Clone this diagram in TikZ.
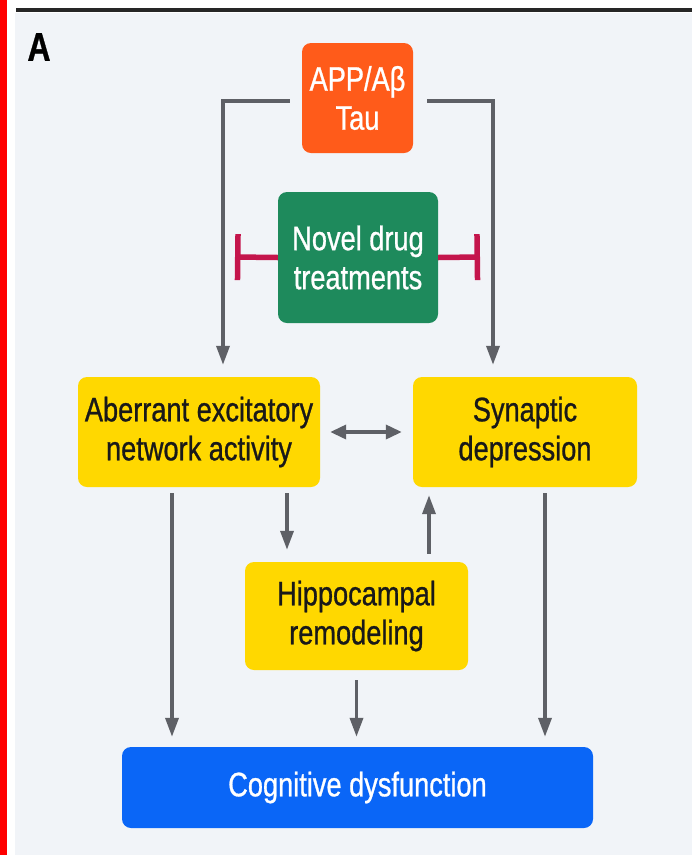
\documentclass[tikz,border=0pt]{standalone}
\usepackage{fontspec}
\setmainfont{Liberation Sans}[FakeStretch=0.8,FakeBold=0.8]
\usetikzlibrary{arrows.meta}
\definecolor{apporange}{HTML}{FF5B1A}
\definecolor{druggreen}{HTML}{1E8A5C}
\definecolor{boxyellow}{HTML}{FFD800}
\definecolor{cogblue}{HTML}{0A66F7}
\definecolor{inhibred}{HTML}{C4154C}
\definecolor{arrowgray}{HTML}{5E6066}
\definecolor{panelgray}{HTML}{F1F4F8}

\begin{document}
\begin{tikzpicture}[x=1pt,y=-1pt,
		box/.style={rounded corners=9pt,inner sep=0pt,align=center,font=\fontsize{34}{39}\selectfont},
		orange/.style={box,fill=apporange,text=white,minimum width=111pt,minimum height=110pt},
		green/.style={box,fill=druggreen,text=white,minimum width=160pt,minimum height=131pt},
		yellow/.style={box,fill=boxyellow,text=black!90,minimum height=110pt},
		blue/.style={box,fill=cogblue,text=white,minimum width=471pt,minimum height=81pt},
		flow/.style={draw=arrowgray,line width=3.5pt,-{Triangle[length=19pt,width=13pt]}},
		both/.style={flow,{Triangle[length=16pt,width=14pt]}-{Triangle[length=16pt,width=14pt]}},
		inhib/.style={draw=inhibred,line width=5.5pt,-{Bar[width=46pt]}}]
	\useasboundingbox (0,0) rectangle (692,855);
	\fill[white] (0,0) rectangle (692,855);
	\fill[red] (0,0) rectangle (7,855);
	\fill[panelgray] (15,13) rectangle (692,855);
	\draw[line width=4pt,black!85] (16,10) -- (692,10);

	\node[font=\bfseries\fontsize{40}{40}\selectfont]		(panel)	at (39,47)		{A};
	\node[orange]								(app)	at (357.5,98)	{APP/Aβ\\Tau};
	\node[green]								(drug)	at (358,257.5)	{Novel drug\\treatments};
	\node[yellow,minimum width=242pt]			(aen)	at (199,432)	{Aberrant excitatory\\network activity};
	\node[yellow,minimum width=224pt]			(syn)	at (525,432)	{Synaptic\\depression};
	\node[yellow,minimum width=223pt,minimum height=108pt]	(hip)	at (356.5,616)	{Hippocampal\\remodeling};
	\node[blue]									(cog)	at (357.5,787.5)	{Cognitive dysfunction};

	\coordinate (inhL) at (235,257);
	\coordinate (inhR) at (480,257);

	\draw[flow,shorten >=12pt] ([xshift=-12pt,yshift=-3pt]app.west) -| ([xshift=24pt]aen.north);
	\draw[flow,shorten >=12pt] ([xshift=14pt,yshift=-3pt]app.east) -| ([xshift=-32pt]syn.north);
	\draw[inhib] (drug.west) -- (inhL);
	\draw[inhib] (drug.east) -- (inhR);
	\draw[both,shorten <=10pt,shorten >=11pt] (aen.east) -- (syn.west);
	\draw[flow,shorten <=6pt,shorten >=10pt] ([xshift=-27pt]aen.south) -- ([xshift=-27pt]aen.south |- cog.north);
	\draw[flow,shorten <=6pt,shorten >=12pt] ([xshift=88pt]aen.south) -- ([xshift=88pt]aen.south |- hip.north);
	\draw[flow,shorten <=8pt,shorten >=8pt] ([xshift=72.5pt]hip.north) -- ([xshift=72.5pt]hip.north |- syn.south);
	\draw[flow,shorten <=10pt,shorten >=10pt] (hip.south) -- (hip.south |- cog.north);
	\draw[flow,shorten <=6pt,shorten >=10pt] ([xshift=20pt]syn.south) -- ([xshift=20pt]syn.south |- cog.north);
\end{tikzpicture}
\end{document}
